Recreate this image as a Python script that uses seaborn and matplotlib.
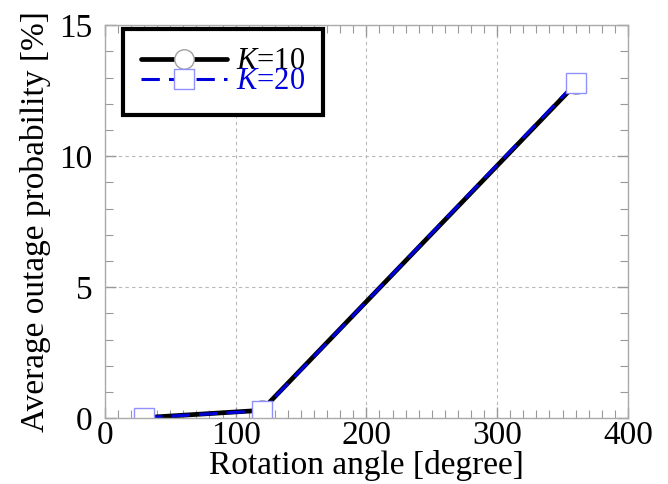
import matplotlib
matplotlib.use('Agg')
import matplotlib.pyplot as plt
from matplotlib.ticker import MultipleLocator
import seaborn as sns

# rotation angle [degree] and average outage probability [%]
angles = [30, 120, 360]
outage_k10 = [0.02, 0.3, 12.75]
outage_k20 = [0.02, 0.28, 12.8]
labels = [r'$K$=10', r'$K$=20']

sns.set_style('ticks')
plt.rcParams['font.family'] = ['Liberation Serif', 'DejaVu Serif']
plt.rcParams['mathtext.fontset'] = 'custom'
plt.rcParams['mathtext.rm'] = 'Liberation Serif'
plt.rcParams['mathtext.it'] = 'Liberation Serif:italic'
plt.rcParams['text.color'] = 'black'
plt.rcParams['axes.labelcolor'] = 'black'
plt.rcParams['xtick.labelcolor'] = 'black'
plt.rcParams['ytick.labelcolor'] = 'black'

fig = plt.figure(figsize=(6.68, 4.84), dpi=100)
ax = fig.add_axes([0.157, 0.136, 0.783, 0.812])

sns.lineplot(x=angles, y=outage_k10, ax=ax, color='black', lw=3.4,
             marker='o', markersize=14, markerfacecolor='white',
             markeredgecolor='#a0a0a0', markeredgewidth=1, label=labels[0])
sns.lineplot(x=angles, y=outage_k20, ax=ax, color='#0000dd', lw=2.2,
             linestyle=(0, (6, 3)), marker='s', markersize=14,
             markerfacecolor='white', markeredgecolor='#9090ff',
             markeredgewidth=1, label=labels[1])

ax.set_xlim(0, 400)
ax.set_ylim(0, 15)
ax.xaxis.set_major_locator(MultipleLocator(100))
ax.xaxis.set_minor_locator(MultipleLocator(10))
ax.yaxis.set_major_locator(MultipleLocator(5))
ax.yaxis.set_minor_locator(MultipleLocator(1))
ax.tick_params(which='both', direction='in', top=True, right=True,
               color='#999999', labelsize=24)
ax.tick_params(which='major', length=8, width=1, pad=2)
ax.tick_params(axis='y', which='major', pad=9)
ax.tick_params(which='minor', length=6, width=0.8)
ax.grid(True, which='major', color='#b8b8b8', linestyle=(0, (3, 3)), lw=0.8)
for s in ax.spines.values():
    s.set_color('#aaaaaa')
    s.set_linewidth(1)

ax.set_xlabel('Rotation angle [degree]', fontsize=24, labelpad=-1)
ax.set_ylabel('Average outage probability [%]', fontsize=24, labelpad=6)

leg = ax.legend(loc='upper left', bbox_to_anchor=(0.034, 0.99),
                borderaxespad=0, fontsize=22, handlelength=2.8,
                handletextpad=0.3, labelspacing=-0.3, borderpad=0.6,
                fancybox=False, framealpha=1, edgecolor='black')
leg.get_frame().set_linewidth(3)
for t, c in zip(leg.get_texts(), ['black', '#0000dd']):
    t.set_color(c)

fig.savefig('out.png', dpi=100)
